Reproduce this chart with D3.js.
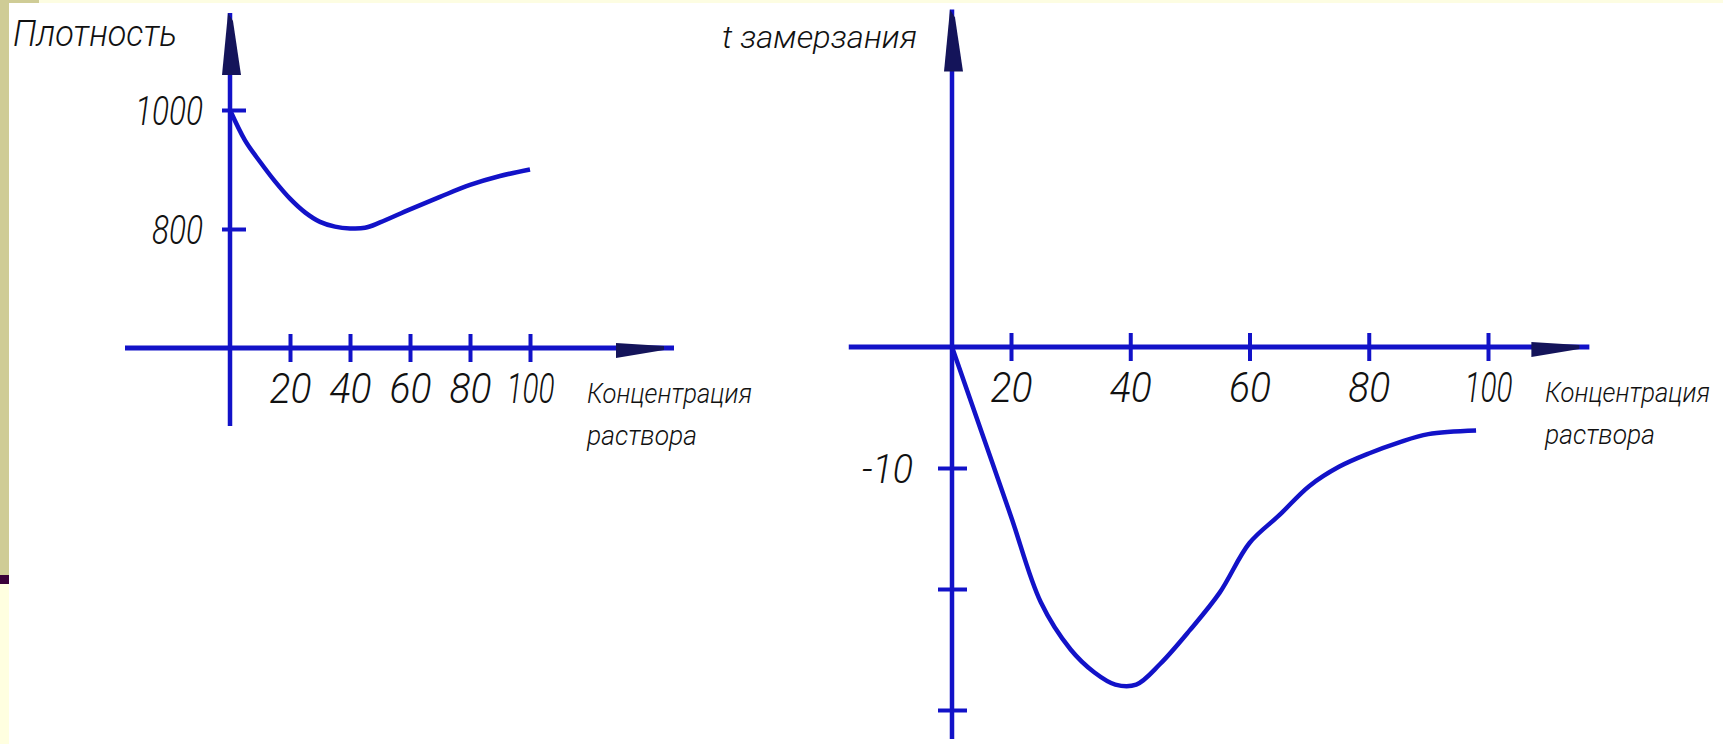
<!DOCTYPE html>
<html>
<head>
<meta charset="utf-8">
<script src="https://cdn.jsdelivr.net/npm/d3@7"></script>
<style>
  html, body { margin: 0; padding: 0; background: #fff; overflow: hidden; }
  text { font-family: Roboto, "DejaVu Sans", sans-serif; font-style: italic; font-weight: 300; fill: #111; }
</style>
</head>
<body>
<script>
// density of the solution vs concentration
const densityConc = [0, 5, 10, 15, 20, 25, 30, 35, 40, 45, 50, 60, 70, 80, 90, 100];
const densityVals = [1000, 949, 913, 880, 851, 828, 812, 804, 801, 802, 811, 833, 854, 874, 889, 900];
const densityTicks = [800, 1000];

// freezing temperature vs concentration
const freezeConc = [0, 10, 20, 25, 30, 34, 37.5, 41, 45, 50, 55, 60, 65, 70, 75, 80, 85, 90, 98];
const freezeTemp = [0, -7, -14, -21.1, -25, -26.9, -27.9, -27.9, -26.2, -23.4, -20.3, -16.2, -13.9, -11.5, -9.9, -8.8, -7.9, -7.2, -6.9];
const freezeTicks = [-10, -20, -30];
const freezeLabels = ['-10'];

const concTicks = [20, 40, 60, 80, 100];
const densityTitle = 'Плотность';
const freezeTitle = 't замерзания';
const xTitle = ['Концентрация', 'раствора'];

const W = 1723, H = 744;
const BLUE = '#1212c8';
const NAVY = '#14145a';

const svg = d3.select('body').append('svg')
  .attr('width', W)
  .attr('height', H);

// slide background
svg.append('rect').attr('width', W).attr('height', H).attr('fill', '#ffffff');
svg.append('rect').attr('x', 0).attr('y', 0).attr('width', W).attr('height', 3).attr('fill', '#fdfde2');
svg.append('rect').attr('x', 0).attr('y', 0).attr('width', 39).attr('height', 3).attr('fill', '#cfcc96');
svg.append('rect').attr('x', 0).attr('y', 0).attr('width', 9).attr('height', 575).attr('fill', '#cfcc96');
svg.append('rect').attr('x', 0).attr('y', 575).attr('width', 9).attr('height', 9).attr('fill', '#3a0038');
svg.append('rect').attr('x', 0).attr('y', 584).attr('width', 9).attr('height', H - 584).attr('fill', '#ffffe0');

function drawChart(g, opt) {
  const x = opt.x, y = opt.y;
  const x0 = x(0), yAxis = y(opt.yBase);

  // main axis lines, running past the origin like the hand drawing
  g.append('line')
    .attr('x1', x(opt.xMin)).attr('x2', x(opt.xMax))
    .attr('y1', yAxis).attr('y2', yAxis)
    .attr('stroke', BLUE).attr('stroke-width', 5);
  g.append('line')
    .attr('x1', x0).attr('x2', x0)
    .attr('y1', y(opt.yMax)).attr('y2', y(opt.yMin))
    .attr('stroke', BLUE).attr('stroke-width', 4.5);

  // arrow heads
  const xEnd = x(opt.xMax);
  g.append('path')
    .attr('d', `M${xEnd - 58},${yAxis - 5} L${xEnd - 10},${yAxis - 2} L${xEnd - 10},${yAxis + 2} L${xEnd - 58},${yAxis + 10} Z`)
    .attr('fill', NAVY);
  const yTop = y(opt.yMax);
  g.append('path')
    .attr('d', `M${x0 - 2},${yTop} L${x0 + 3},${yTop + 8} L${x0 + 11},${yTop + 62} L${x0 - 8},${yTop + 62} Z`)
    .attr('fill', NAVY);

  // bottom axis ticks and labels
  const ax = g.append('g')
    .attr('transform', `translate(0,${yAxis})`)
    .call(d3.axisBottom(x).tickValues(concTicks).tickSize(14).tickPadding(0));
  ax.select('.domain').remove();
  ax.selectAll('.tick line')
    .attr('y1', -14).attr('y2', 14)
    .attr('stroke', BLUE).attr('stroke-width', 4);
  ax.selectAll('.tick text')
    .attr('y', 55).attr('dy', null)
    .attr('font-size', 42)
    .attr('textLength', d => String(d).length * (d === 100 ? 16 : 21))
    .attr('lengthAdjust', 'spacingAndGlyphs');

  // left axis ticks and labels
  const ay = g.append('g')
    .attr('transform', `translate(${x0},0)`)
    .call(d3.axisLeft(y).tickValues(opt.yTicks).tickSize(14).tickPadding(0)
      .tickFormat(d => opt.yLabels.includes(String(d)) ? String(d) : ''));
  ay.select('.domain').remove();
  ay.selectAll('.tick line')
    .attr('x1', opt.yTickL).attr('x2', opt.yTickR)
    .attr('stroke', BLUE).attr('stroke-width', 4);
  ay.selectAll('.tick text')
    .attr('x', opt.yLabelX).attr('dy', null).attr('y', 14)
    .attr('font-size', 40)
    .attr('textLength', d => String(d).length * 17)
    .attr('lengthAdjust', 'spacingAndGlyphs');

  // curve
  const pts = opt.cx.map((c, i) => [c, opt.cy[i]]);
  g.append('path')
    .datum(pts)
    .attr('fill', 'none')
    .attr('stroke', BLUE)
    .attr('stroke-width', 4.5)
    .attr('stroke-linejoin', 'round')
    .attr('d', d3.line().x(d => x(d[0])).y(d => y(d[1])).curve(d3.curveCatmullRom.alpha(0.5)));

  // titles
  g.append('text')
    .attr('x', opt.titleX).attr('y', opt.titleY)
    .attr('font-size', opt.titleSize)
    .attr('textLength', opt.titleLen)
    .attr('lengthAdjust', 'spacingAndGlyphs')
    .text(opt.title);
  const xl = x(100) + 57;
  g.append('text')
    .attr('x', xl).attr('y', yAxis + 55)
    .attr('font-size', 28)
    .attr('textLength', 165)
    .attr('lengthAdjust', 'spacingAndGlyphs')
    .text(xTitle[0]);
  g.append('text')
    .attr('x', xl).attr('y', yAxis + 97)
    .attr('font-size', 28)
    .attr('textLength', 110)
    .attr('lengthAdjust', 'spacingAndGlyphs')
    .text(xTitle[1]);
}

// left chart: density
drawChart(svg.append('g'), {
  x: d3.scaleLinear().domain([0, 100]).range([230, 530]),
  y: d3.scaleLinear().domain([600, 1000]).range([348, 110]),
  xMin: -35, xMax: 148,
  yBase: 600, yMin: 469, yMax: 1163,
  yTicks: densityTicks, yLabels: densityTicks.map(String),
  yTickL: -8, yTickR: 16, yLabelX: -27,
  cx: densityConc, cy: densityVals,
  title: densityTitle, titleX: 13, titleY: 46, titleSize: 36, titleLen: 164
});

// right chart: freezing temperature (hand-drawn axis: first step is shorter)
drawChart(svg.append('g'), {
  x: d3.scaleLinear().domain([0, 20, 100]).range([952, 1011, 1488]),
  y: d3.scaleLinear().domain([0, -30]).range([347, 710]),
  xMin: -35, xMax: 117,
  yBase: 0, yMin: -32.4, yMax: 27.9,
  yTicks: freezeTicks, yLabels: freezeLabels,
  yTickL: -14, yTickR: 15, yLabelX: -39,
  cx: freezeConc, cy: freezeTemp,
  title: freezeTitle, titleX: 722, titleY: 48, titleSize: 32, titleLen: 195
});
</script>
</body>
</html>
